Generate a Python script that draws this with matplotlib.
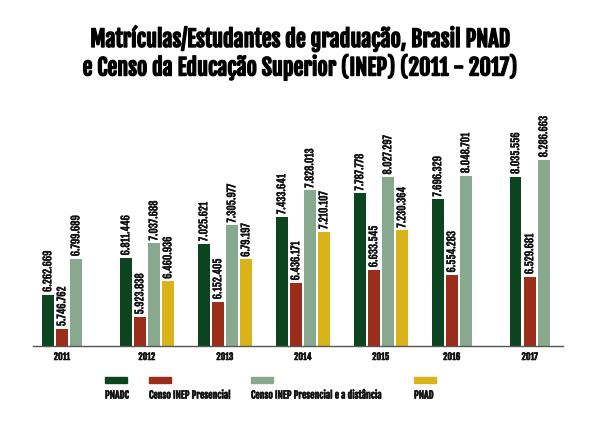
import matplotlib
matplotlib.use("Agg")
import matplotlib.pyplot as plt
import matplotlib.patheffects as pe
from matplotlib.patches import Rectangle
import numpy as np

years = ["2011", "2012", "2013", "2014", "2015", "2016", "2017"]
series = ["PNADC", "Censo INEP Presencial", "Censo INEP Presencial e a distância", "PNAD"]
pnadc = [6262669, 6811446, 7025621, 7433641, 7787778, 7696329, 8035556]
censo_pres = [5746762, 5923838, 6152405, 6436171, 6633545, 6554283, 6529681]
censo_total = [6799689, 7037688, 7305977, 7828013, 8027297, 8048701, 8286663]
pnad = [None, 6460936, 6790197, 7210107, 7230364, None, None]
# labels as printed in the source (2013 PNAD is printed "6.79.197")
pnad_text = [None, "6.460.936", "6.79.197", "7.210.107", "7.230.364", None, None]

colors = ["#0c4420", "#9a2e1b", "#88a98d", "#d8b31a"]

def fmt(v):
    return f"{v:,}".replace(",", ".")

plt.rcParams["font.family"] = ["Fjalla One", "Oswald", "DejaVu Sans"]
thick = [pe.withStroke(linewidth=0.45, foreground="#111111")]
thin = [pe.withStroke(linewidth=0.25, foreground="#111111")]

fig = plt.figure(figsize=(6, 4.24), dpi=100)
ax = fig.add_axes([0.055, 0.184, 0.883, 0.604])

step = 0.18
width = 0.15
all_vals = [pnadc, censo_pres, censo_total, pnad]
for i, yr in enumerate(years):
    centers = []
    for j, vals in enumerate(all_vals):
        v = vals[i]
        if v is None:
            continue
        x = i + j * step + width / 2
        centers.append(x)
        ax.bar(x, v, width=width, color=colors[j], bottom=0)
        txt = pnad_text[i] if j == 3 else fmt(v)
        ax.text(x, v + 40000, txt, rotation=90, ha="center", va="bottom",
                fontsize=7.5, color="#111111", path_effects=thin)
    ax.text(np.mean(centers), 5490000 - 90000, yr, ha="center", va="top",
            fontsize=6.5, color="#111111", path_effects=thick)

ax.set_ylim(5490000, 9340000)
ax.set_xlim(-0.115, 6.68)
for s in ["top", "right", "left"]:
    ax.spines[s].set_visible(False)
ax.spines["bottom"].set_color("#555555")
ax.spines["bottom"].set_linewidth(1)
ax.set_xticks([])
ax.set_yticks([])

fig.text(0.5, 0.875, "Matrículas/Estudantes de graduação, Brasil PNAD\ne Censo da Educação Superior (INEP) (2011 - 2017)",
         ha="center", va="center", fontsize=16, linespacing=1.12, color="#000000",
         path_effects=[pe.withStroke(linewidth=1.0, foreground="#000000")])

# legend
leg_x = [105, 149, 251, 414]
for k, name in enumerate(series):
    fig.add_artist(Rectangle((leg_x[k] / 600, 1 - 383 / 424), 22 / 600, 6 / 424,
                             transform=fig.transFigure, color=colors[k]))
    fig.text(leg_x[k] / 600, 1 - 395 / 424, name, ha="left", va="center",
             fontsize=7, color="#111111", path_effects=thick)

fig.savefig("out.png", dpi=100)
